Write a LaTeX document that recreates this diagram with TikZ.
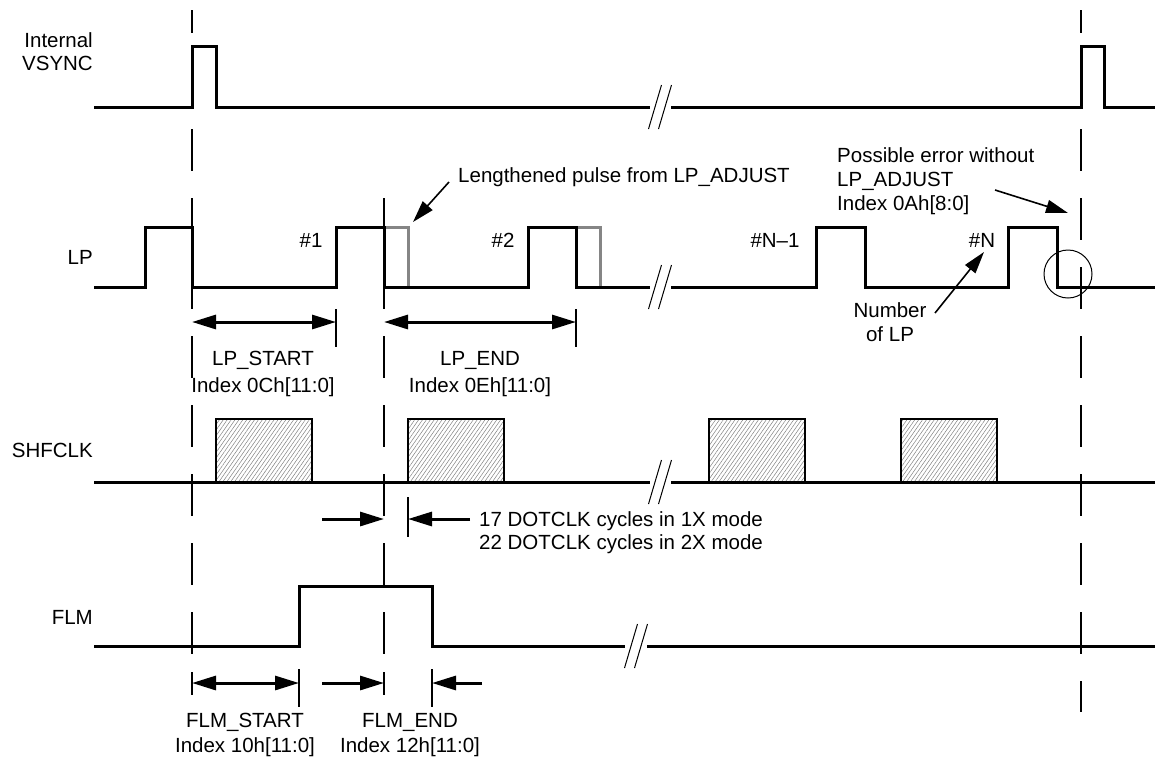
\documentclass[tikz,border=0pt]{standalone}
\usepackage{fontspec}
\setmainfont{Liberation Sans}
\usetikzlibrary{arrows.meta,patterns.meta}
\begin{document}
\begin{tikzpicture}[x=1pt,y=-1pt,
  sig/.style={line width=3pt, line join=miter},
  gsig/.style={line width=3pt, draw=black!48, line join=miter},
  guide/.style={line width=2.6pt, dash pattern=on 42pt off 27pt},
  brkline/.style={line width=1pt},
  dimline/.style={line width=3pt},
  tickline/.style={line width=2.4pt},
  dimboth/.style={dimline, {Triangle[length=24pt,width=14pt]}-{Triangle[length=24pt,width=14pt]}},
  dimto/.style={dimline, -{Triangle[length=24pt,width=14pt]}},
  annot/.style={line width=1.6pt, -{Triangle[length=22pt,width=13pt]}},
  lbl/.style={inner sep=0pt, font=\fontsize{20.5}{25}\selectfont},
  hatchbox/.style={line width=2.4pt, pattern={Lines[angle=55,distance=3.2pt,line width=0.5pt]}, pattern color=black!50},
]
\useasboundingbox (0,0) rectangle (1155,761);

% vertical dashed guides
\draw[guide, dash phase=19pt] (192,10) -- (192,654);
\draw[guide] (384,198) -- (384,654);
\draw[guide, dash phase=19pt] (1081,10) -- (1081,712);

% signal names
\node[lbl, anchor=base east] (nInt) at (93,47) {Internal};
\node[lbl, anchor=base east] (nVs) at (93,70) {VSYNC};
\node[lbl, anchor=base east] (nLP) at (93,264) {LP};
\node[lbl, anchor=base east] (nSh) at (93,457) {SHFCLK};
\node[lbl, anchor=base east] (nFlm) at (93,624) {FLM};

% Internal VSYNC
\draw[sig] (94,107) -- (192,107) -- (192,46) -- (216,46) -- (216,107) -- (650,107);
\draw[sig] (671,107) -- (1081,107) -- (1081,46) -- (1104,46) -- (1104,107) -- (1155,107);
\draw[brkline] (648.5,129) -- (661.5,85);
\draw[brkline] (658.5,129) -- (671.5,85);

% LP
\draw[gsig] (384,227) -- (408,227) -- (408,287);
\draw[gsig] (576,227) -- (600,227) -- (600,287);
\draw[sig] (94,287) -- (145,287) -- (145,227) -- (192,227) -- (192,287) -- (336,287) -- (336,227) -- (384,227) -- (384,287) -- (528,287) -- (528,227) -- (576,227) -- (576,287) -- (650,287);
\draw[sig] (671,287) -- (816,287) -- (816,227) -- (865,227) -- (865,287) -- (1008,287) -- (1008,227) -- (1057,227) -- (1057,287) -- (1155,287);
\draw[brkline] (648.5,309) -- (661.5,265);
\draw[brkline] (658.5,309) -- (671.5,265);
\draw[line width=1pt] (1068,274) circle[radius=24];

\node[lbl, anchor=base] (p1) at (311,247) {\#1};
\node[lbl, anchor=base] (p2) at (503,247) {\#2};
\node[lbl, anchor=base] (pN1) at (775,247) {\#N–1};
\node[lbl, anchor=base] (pN) at (982,247) {\#N};

% annotations
\node[lbl, anchor=base west] (lenT) at (458,182) {Lengthened pulse from LP\_ADJUST};
\coordinate (lenA) at (449,182);
\coordinate (lenB) at (413,222);
\draw[annot] (lenA) -- (lenB);

\node[lbl, anchor=base west] (errT1) at (837,162) {Possible error without};
\node[lbl, anchor=base west] (errT2) at (837,186) {LP\_ADJUST};
\node[lbl, anchor=base west] (errT3) at (837,210) {Index 0Ah[8:0]};
\coordinate (errA) at (995,190);
\coordinate (errB) at (1068,213);
\draw[annot] (errA) -- (errB);

\node[lbl, anchor=base] (numT1) at (890,317) {Number};
\node[lbl, anchor=base] (numT2) at (890,341) {of LP};
\coordinate (numA) at (935,313);
\coordinate (numB) at (984,252);
\draw[annot] (numA) -- (numB);

% LP_START / LP_END
\coordinate (ls1) at (192,322);
\coordinate (ls2) at (336,322);
\coordinate (le1) at (384,322);
\coordinate (le2) at (576,322);
\draw[dimboth] (ls1) -- (ls2);
\draw[dimboth] (le1) -- (le2);
\draw[tickline] (336,309) -- (336,347);
\draw[tickline] (576,309) -- (576,347);
\node[lbl, anchor=base] (lsT1) at (263,365) {LP\_START};
\node[lbl, anchor=base] (lsT2) at (263,392) {Index 0Ch[11:0]};
\node[lbl, anchor=base] (leT1) at (480,365) {LP\_END};
\node[lbl, anchor=base] (leT2) at (480,392) {Index 0Eh[11:0]};

% SHFCLK
\draw[hatchbox] (216,419) rectangle (312,482);
\draw[hatchbox] (408,419) rectangle (504,482);
\draw[hatchbox] (709,419) rectangle (805,482);
\draw[hatchbox] (901,419) rectangle (997,482);
\draw[sig] (94,482) -- (650,482);
\draw[sig] (671,482) -- (1155,482);
\draw[brkline] (648.5,504) -- (661.5,460);
\draw[brkline] (658.5,504) -- (671.5,460);

\coordinate (dc1) at (322,519);
\coordinate (dc2) at (384,519);
\coordinate (dc3) at (470,519);
\coordinate (dc4) at (408,519);
\draw[dimto] (dc1) -- (dc2);
\draw[dimto] (dc3) -- (dc4);
\draw[tickline] (408,497) -- (408,537);
\node[lbl, anchor=base west] (dcT1) at (479,526) {17 DOTCLK cycles in 1X mode};
\node[lbl, anchor=base west] (dcT2) at (479,549) {22 DOTCLK cycles in 2X mode};

% FLM
\draw[sig] (94,646) -- (299,646) -- (299,586) -- (432,586) -- (432,646) -- (625,646);
\draw[sig] (647,646) -- (1155,646);
\draw[brkline] (624.5,668) -- (637.5,624);
\draw[brkline] (634.5,668) -- (647.5,624);

\coordinate (fs1) at (192,683);
\coordinate (fs2) at (299,683);
\coordinate (fe1) at (322,683);
\coordinate (fe2) at (384,683);
\coordinate (fe3) at (482,683);
\coordinate (fe4) at (432,683);
\draw[dimboth] (fs1) -- (fs2);
\draw[dimto] (fe1) -- (fe2);
\draw[dimto] (fe3) -- (fe4);
\draw[tickline] (192,672) -- (192,695);
\draw[tickline] (299,669) -- (299,707);
\draw[tickline] (384,672) -- (384,695);
\draw[tickline] (432,669) -- (432,707);
\node[lbl, anchor=base] (fsT1) at (245,727) {FLM\_START};
\node[lbl, anchor=base] (fsT2) at (245,752) {Index 10h[11:0]};
\node[lbl, anchor=base] (feT1) at (410,727) {FLM\_END};
\node[lbl, anchor=base] (feT2) at (410,752) {Index 12h[11:0]};
\end{tikzpicture}
\end{document}
